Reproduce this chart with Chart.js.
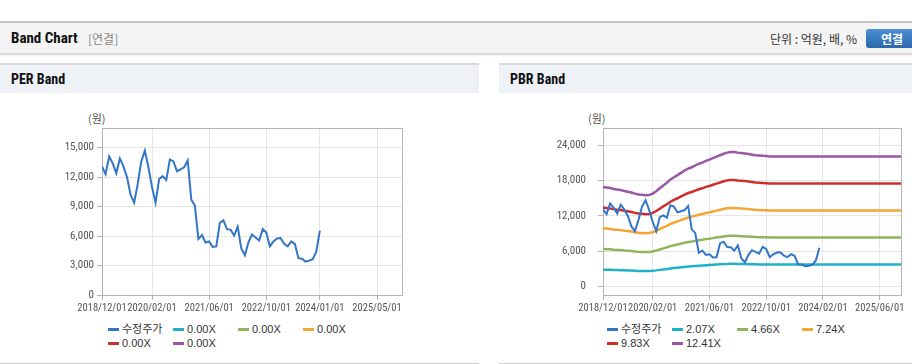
<!DOCTYPE html>
<html>
<head>
<meta charset="utf-8">
<script src="https://cdn.jsdelivr.net/npm/chart.js@4.4.1/dist/chart.umd.min.js"></script>
<style>
  body { margin:0; width:912px; height:364px; position:relative; overflow:hidden; background:#fff;
         font-family:"Roboto Condensed","Noto Sans CJK KR",sans-serif; color:#222; }
  .hdr { position:absolute; left:0; top:21px; width:912px; height:30px; background:#f4f4f4;
         border-top:2px solid #c4c4c4; box-shadow:0 2px 2px rgba(0,0,0,0.18); }
  .hdr .t { position:absolute; left:11px; top:6px; font-weight:bold; font-size:15px; color:#111; }
  .hdr .s { position:absolute; left:88px; top:7px; font-size:12px; color:#888; font-family:"Noto Sans CJK KR",sans-serif; }
  .hdr .u { position:absolute; left:770px; top:7px; font-size:12px; color:#333; font-family:"Noto Sans CJK KR",sans-serif; }
  .btn { position:absolute; left:866px; top:6px; width:52px; height:19px; border-radius:3px;
         background:linear-gradient(#4b8fd4,#2b68ad); color:#fff; font-weight:bold; font-size:12px;
         line-height:19px; padding-left:15px; box-sizing:border-box; font-family:"Noto Sans CJK KR",sans-serif; }
  .panel { position:absolute; top:63px; height:298px; border-top:2px solid #d9d9d9; border-bottom:1px solid #cfcfcf; }
  .phead { height:28px; background:#eef2f7; font-weight:bold; font-size:14px; line-height:29px; padding-left:11px; color:#111; }
  .unit { position:absolute; top:110px; font-size:11px; color:#555; font-family:"Noto Sans CJK KR",sans-serif; }
  .cv { position:absolute; top:100px; height:220px; }
  .lg { position:absolute; top:322px; font-size:11px; color:#333; font-family:"Liberation Sans","Noto Sans CJK KR",sans-serif; }
  .lg .it { display:inline-block; width:65px; height:14px; line-height:14px; white-space:nowrap; }
  .lg .mk { display:inline-block; width:11px; height:3px; vertical-align:middle; margin-right:3px; position:relative; top:-1px; }
</style>
</head>
<body>
<div class="hdr">
  <div class="t">Band Chart</div><div class="s">[연결]</div>
  <div class="u">단위 : 억원, 배, %</div>
  <div class="btn">연결</div>
</div>
<div class="panel" style="left:0;width:479px"><div class="phead">PER Band</div></div>
<div class="panel" style="left:499px;width:413px"><div class="phead">PBR Band</div></div>
<div class="unit" style="left:88px">(원)</div>
<div class="unit" style="left:588px">(원)</div>
<div class="cv" style="left:0;width:479px"><canvas id="per"></canvas></div>
<div class="cv" style="left:499px;width:413px"><canvas id="pbr"></canvas></div>
<div class="lg" id="perLegend" style="left:108px;width:270px"></div>
<div class="lg" id="pbrLegend" style="left:607px;width:270px"></div>
<script>
// month index 0 = 2018/12, axis runs to index 84 (2025/12)
var X_MAX = 84;

// 수정주가, monthly, 2018/12 .. 2024/01
var PRICE = [13100, 12300, 14100, 13400, 12400, 13900, 13100, 12000, 10200, 9400,
  11300, 13600, 14700, 13000, 11000, 9400, 11800, 12100, 11700, 13800,
  13600, 12600, 12800, 13000, 13700, 9700, 9100, 5700, 6100, 5350,
  5450, 4900, 4950, 7350, 7600, 6700, 6650, 6050, 6950, 4750,
  4050, 5350, 6150, 5850, 5550, 6700, 6350, 4950, 5450, 5750,
  5800, 5200, 4950, 5450, 5200, 3750, 3700, 3400, 3500, 3650,
  4400, 6550];

// BPS (band value = BPS x multiple)
var BPS = [1365, 1358, 1350, 1338, 1329, 1322, 1309, 1300, 1289, 1273,
  1261, 1257, 1251, 1253, 1273, 1305, 1346, 1386, 1422, 1467,
  1499, 1527, 1559, 1591, 1618, 1636, 1660, 1684, 1700, 1724,
  1741, 1761, 1781, 1801, 1821, 1837, 1846, 1844, 1837, 1832,
  1825, 1817, 1809, 1801, 1797, 1793, 1789, 1785, 1785, 1785,
  1785, 1785, 1785, 1785, 1785, 1785, 1785, 1785, 1785, 1785,
  1785, 1785, 1785, 1785, 1785, 1785, 1785, 1785, 1785, 1785,
  1785, 1785, 1785, 1785, 1785, 1785, 1785, 1785, 1785, 1785,
  1785, 1785, 1785, 1785, 1785];

var PER_MULT = [0, 0, 0, 0, 0];
var PBR_MULT = [2.07, 4.66, 7.24, 9.83, 12.41];

var PRICE_COLOR = "#3275c9";
var BAND_COLORS = ["#1eb1c8", "#8db65a", "#f4a534", "#cc2e2e", "#9a57a5"];

var PER_X_TICKS = [0, 14, 30, 46, 61, 77];
var PER_X_LABELS = ["2018/12/01", "2020/02/01", "2021/06/01", "2022/10/01", "2024/01/01", "2025/05/01"];
var PBR_X_TICKS = [0, 14, 30, 46, 62, 78];
var PBR_X_LABELS = ["2018/12/01", "2020/02/01", "2021/06/01", "2022/10/01", "2024/02/01", "2025/06/01"];
var PER_Y_TICKS = [0, 3000, 6000, 9000, 12000, 15000];
var PBR_Y_TICKS = [0, 6000, 12000, 18000, 24000];

function pts(arr) {
  return arr.map(function (v, i) { return { x: i, y: v }; });
}

function datasets(mults, withBands) {
  var ds = [{ label: "수정주가", data: pts(PRICE), borderColor: PRICE_COLOR, borderWidth: 2 }];
  mults.forEach(function (m, k) {
    ds.push({
      label: m.toFixed(2) + "X",
      data: withBands ? pts(BPS.map(function (b) { return b * m; })) : [],
      borderColor: BAND_COLORS[k],
      borderWidth: 2.5
    });
  });
  return ds;
}

var frame = {
  id: "frame",
  beforeDatasetsDraw: function (chart) {
    var a = chart.chartArea, c = chart.ctx;
    c.save();
    c.strokeStyle = "#b4b4b4";
    c.lineWidth = 1;
    c.strokeRect(Math.round(a.left) + 0.5, Math.round(a.top) + 0.5,
      Math.round(a.right - a.left), Math.round(a.bottom - a.top));
    c.restore();
  }
};

var xFont = { family: "'Roboto Condensed',sans-serif", size: 10.5 };
var yFont = { family: "'Roboto Condensed',sans-serif", size: 11 };

function makeChart(id, ds, xTicks, xLabels, yTicks, yMin, yMax, yWidth, padRight, yPad) {
  return new Chart(document.getElementById(id), {
    type: "line",
    data: { datasets: ds },
    plugins: [frame],
    options: {
      responsive: true,
      maintainAspectRatio: false,
      animation: false,
      layout: { padding: { left: 0, right: padRight, top: 28, bottom: 0 } },
      elements: { point: { radius: 0 }, line: { tension: 0 } },
      plugins: { legend: { display: false }, tooltip: { enabled: false } },
      scales: {
        x: {
          type: "linear", min: 0, max: X_MAX,
          afterBuildTicks: function (s) { s.ticks = xTicks.map(function (v) { return { value: v }; }); },
          afterFit: function (s) { s.height = 25; },
          ticks: {
            autoSkip: false, maxRotation: 0, padding: 2, color: "#555", font: xFont,
            callback: function (v, i) { return xLabels[i]; }
          },
          grid: { color: "#e6e6e6", tickColor: "#b4b4b4", tickLength: 5 },
          border: { color: "#b4b4b4" }
        },
        y: {
          min: yMin, max: yMax,
          afterBuildTicks: function (s) { s.ticks = yTicks.map(function (v) { return { value: v }; }); },
          afterFit: function (s) { s.width = yWidth; },
          ticks: {
            padding: yPad, color: "#555", font: yFont,
            callback: function (v) { return v.toLocaleString("en-US"); }
          },
          grid: { color: "#e6e6e6", tickColor: "#b4b4b4", tickLength: 5 },
          border: { color: "#b4b4b4" }
        }
      }
    }
  });
}

function legend(id, ds) {
  var el = document.getElementById(id);
  ds.forEach(function (d) {
    var it = document.createElement("span");
    it.className = "it";
    it.innerHTML = '<span class="mk" style="background:' + d.borderColor + '"></span>' + d.label;
    el.appendChild(it);
  });
}

var perDs = datasets(PER_MULT, false);
var pbrDs = datasets(PBR_MULT, true);
makeChart("per", perDs, PER_X_TICKS, PER_X_LABELS, PER_Y_TICKS, 0, 17000, 102, 77, 3);
makeChart("pbr", pbrDs, PBR_X_TICKS, PBR_X_LABELS, PBR_Y_TICKS, -1500, 27000, 104, 11, 12);
legend("perLegend", perDs);
legend("pbrLegend", pbrDs);
</script>
</body>
</html>
